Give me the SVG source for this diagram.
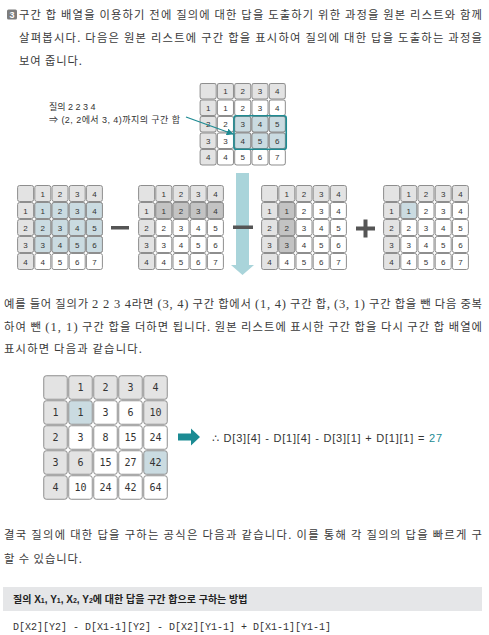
<svg xmlns="http://www.w3.org/2000/svg" xmlns:xlink="http://www.w3.org/1999/xlink" width="489" height="635" viewBox="0 0 489 635">
<style>
.p{font-family:"Noto Sans CJK KR","Liberation Sans",sans-serif;font-size:11.3px;fill:#3a3a3a}
.s{font-family:"Liberation Serif",serif;font-size:12.5px}
.c{stroke:#8e8e8e;stroke-width:1}
.h{fill:#e3e3e3}.w{fill:#fff}.b{fill:#cadbe1}.g{fill:#c3c3c3}
.t{font-family:"Liberation Sans",sans-serif;font-size:8px;fill:#333;text-anchor:middle}
.T{font-family:"DejaVu Sans Mono",monospace;font-size:10px;fill:#333;text-anchor:middle}
.lb{font-family:"Liberation Sans","Noto Sans CJK KR",sans-serif;font-size:9px;fill:#333}
.op{fill:#555}
</style>
<defs>
<marker id="ah" viewBox="0 0 10 10" refX="9" refY="5" markerWidth="7" markerHeight="7" orient="auto" markerUnits="userSpaceOnUse"><path d="M0,0L10,5L0,10z" fill="#1f8b93"/></marker>
<g id="sg-head">
<rect class="c h" x="0.6" y="0.5" width="16" height="16" rx="2"/>
<rect class="c h" x="17.8" y="0.5" width="16" height="16" rx="2"/>
<rect class="c h" x="35" y="0.5" width="16" height="16" rx="2"/>
<rect class="c h" x="52.2" y="0.5" width="16" height="16" rx="2"/>
<rect class="c h" x="69.4" y="0.5" width="16" height="16" rx="2"/>
<rect class="c h" x="0.6" y="17.5" width="16" height="16" rx="2"/>
<rect class="c h" x="0.6" y="34.5" width="16" height="16" rx="2"/>
<rect class="c h" x="0.6" y="51.5" width="16" height="16" rx="2"/>
<rect class="c h" x="0.6" y="68.5" width="16" height="16" rx="2"/>
<text class="t" x="25.8" y="11.5">1</text><text class="t" x="43" y="11.5">2</text><text class="t" x="60.2" y="11.5">3</text><text class="t" x="77.4" y="11.5">4</text>
<text class="t" x="8.6" y="28.5">1</text><text class="t" x="8.6" y="45.5">2</text><text class="t" x="8.6" y="62.5">3</text><text class="t" x="8.6" y="79.5">4</text>
</g>
<g id="sg-body">
<rect class="c w" x="17.8" y="17.5" width="16" height="16" rx="2"/><rect class="c w" x="35" y="17.5" width="16" height="16" rx="2"/><rect class="c w" x="52.2" y="17.5" width="16" height="16" rx="2"/><rect class="c w" x="69.4" y="17.5" width="16" height="16" rx="2"/>
<rect class="c w" x="17.8" y="34.5" width="16" height="16" rx="2"/><rect class="c w" x="35" y="34.5" width="16" height="16" rx="2"/><rect class="c w" x="52.2" y="34.5" width="16" height="16" rx="2"/><rect class="c w" x="69.4" y="34.5" width="16" height="16" rx="2"/>
<rect class="c w" x="17.8" y="51.5" width="16" height="16" rx="2"/><rect class="c w" x="35" y="51.5" width="16" height="16" rx="2"/><rect class="c w" x="52.2" y="51.5" width="16" height="16" rx="2"/><rect class="c w" x="69.4" y="51.5" width="16" height="16" rx="2"/>
<rect class="c w" x="17.8" y="68.5" width="16" height="16" rx="2"/><rect class="c w" x="35" y="68.5" width="16" height="16" rx="2"/><rect class="c w" x="52.2" y="68.5" width="16" height="16" rx="2"/><rect class="c w" x="69.4" y="68.5" width="16" height="16" rx="2"/>
</g>
<g id="sg-nums">
<text class="t" x="25.8" y="28.5">1</text><text class="t" x="43" y="28.5">2</text><text class="t" x="60.2" y="28.5">3</text><text class="t" x="77.4" y="28.5">4</text>
<text class="t" x="25.8" y="45.5">2</text><text class="t" x="43" y="45.5">3</text><text class="t" x="60.2" y="45.5">4</text><text class="t" x="77.4" y="45.5">5</text>
<text class="t" x="25.8" y="62.5">3</text><text class="t" x="43" y="62.5">4</text><text class="t" x="60.2" y="62.5">5</text><text class="t" x="77.4" y="62.5">6</text>
<text class="t" x="25.8" y="79.5">4</text><text class="t" x="43" y="79.5">5</text><text class="t" x="60.2" y="79.5">6</text><text class="t" x="77.4" y="79.5">7</text>
</g>
</defs>
<rect width="489" height="635" fill="#fff"/>

<g id="intro">
<rect x="7" y="9.5" width="10" height="10" rx="1.5" fill="#7d7d7d"/>
<text x="12" y="17.8" font-family="Liberation Sans,sans-serif" font-size="9" font-weight="bold" fill="#fff" text-anchor="middle">3</text>
<text class="p" x="19" y="18.5" textLength="463" lengthAdjust="spacing">구간 합 배열을 이용하기 전에 질의에 대한 답을 도출하기 위한 과정을 원본 리스트와 함께</text>
<text class="p" x="19" y="41.5" textLength="463" lengthAdjust="spacing">살펴봅시다. 다음은 원본 리스트에 구간 합을 표시하여 질의에 대한 답을 도출하는 과정을</text>
<text class="p" x="19" y="64.5" textLength="63" lengthAdjust="spacing">보여 줍니다.</text>
</g>

<g id="query-label">
<text class="lb" x="49" y="110">질의 2 2 3 4</text>
<text class="lb" x="49" y="123" textLength="131" lengthAdjust="spacing">⇒ (2, 2에서 3, 4)까지의 구간 합</text>
</g>

<g id="grid-top" transform="translate(199.5,83) scale(1.005,0.97)">
<use href="#sg-head"/><use href="#sg-body"/>
<rect class="c b" x="35" y="34.5" width="16" height="16" rx="2"/><rect class="c b" x="52.2" y="34.5" width="16" height="16" rx="2"/><rect class="c b" x="69.4" y="34.5" width="16" height="16" rx="2"/>
<rect class="c b" x="35" y="51.5" width="16" height="16" rx="2"/><rect class="c b" x="52.2" y="51.5" width="16" height="16" rx="2"/><rect class="c b" x="69.4" y="51.5" width="16" height="16" rx="2"/>
<use href="#sg-nums"/>
<rect x="34.3" y="33.8" width="52" height="34.6" rx="2.5" fill="none" stroke="#1f8b93" stroke-width="1.6"/>
</g>

<g id="grid-a" transform="translate(17,185)">
<use href="#sg-head"/><use href="#sg-body"/>
<rect class="c b" x="17.8" y="17.5" width="16" height="16" rx="2"/><rect class="c b" x="35" y="17.5" width="16" height="16" rx="2"/><rect class="c b" x="52.2" y="17.5" width="16" height="16" rx="2"/><rect class="c b" x="69.4" y="17.5" width="16" height="16" rx="2"/>
<rect class="c b" x="17.8" y="34.5" width="16" height="16" rx="2"/><rect class="c b" x="35" y="34.5" width="16" height="16" rx="2"/><rect class="c b" x="52.2" y="34.5" width="16" height="16" rx="2"/><rect class="c b" x="69.4" y="34.5" width="16" height="16" rx="2"/>
<rect class="c b" x="17.8" y="51.5" width="16" height="16" rx="2"/><rect class="c b" x="35" y="51.5" width="16" height="16" rx="2"/><rect class="c b" x="52.2" y="51.5" width="16" height="16" rx="2"/><rect class="c b" x="69.4" y="51.5" width="16" height="16" rx="2"/>
<use href="#sg-nums"/>
</g>

<g id="grid-b" transform="translate(138,185)">
<use href="#sg-head"/><use href="#sg-body"/>
<rect class="c g" x="17.8" y="17.5" width="16" height="16" rx="2"/><rect class="c g" x="35" y="17.5" width="16" height="16" rx="2"/><rect class="c g" x="52.2" y="17.5" width="16" height="16" rx="2"/><rect class="c g" x="69.4" y="17.5" width="16" height="16" rx="2"/>
<use href="#sg-nums"/>
</g>

<g id="grid-c" transform="translate(261,185)">
<use href="#sg-head"/><use href="#sg-body"/>
<rect class="c g" x="17.8" y="17.5" width="16" height="16" rx="2"/><rect class="c g" x="17.8" y="34.5" width="16" height="16" rx="2"/><rect class="c g" x="17.8" y="51.5" width="16" height="16" rx="2"/>
<use href="#sg-nums"/>
</g>

<g id="grid-d" transform="translate(383,185)">
<use href="#sg-head"/><use href="#sg-body"/>
<rect class="c b" x="17.8" y="17.5" width="16" height="16" rx="2"/>
<use href="#sg-nums"/>
</g>

<g id="connectors">
<line x1="186" y1="117" x2="233" y2="134" stroke="#1f8b93" stroke-width="1.3" marker-end="url(#ah)"/>
<polygon points="236,173 249,173 249,265 254,265 242.5,275 231,265 236,265" fill="#a9d4da"/>
<polygon points="178,433.5 191,433.5 191,428.5 200,437 191,445.5 191,440.5 178,440.5" fill="#1b8b93"/>
</g>

<g id="operators">
<rect class="op" x="111" y="226" width="18" height="3.5"/>
<rect class="op" x="233" y="225.5" width="20" height="3.5"/>
<rect class="op" x="356" y="226.5" width="19" height="4"/>
<rect class="op" x="363.5" y="219.5" width="4" height="18"/>
</g>

<g id="para2">
<text class="p" x="4" y="307.5" textLength="478" lengthAdjust="spacing">예를 들어 질의가 <tspan class="s">2 2 3 4</tspan>라면 <tspan class="s">(3, 4)</tspan> 구간 합에서 <tspan class="s">(1, 4)</tspan> 구간 합, <tspan class="s">(3, 1)</tspan> 구간 합을 뺀 다음 중복</text>
<text class="p" x="4" y="330.5" textLength="478" lengthAdjust="spacing">하여 뺀 <tspan class="s">(1, 1)</tspan> 구간 합을 더하면 됩니다. 원본 리스트에 표시한 구간 합을 다시 구간 합 배열에</text>
<text class="p" x="4" y="352.5" textLength="138" lengthAdjust="spacing">표시하면 다음과 같습니다.</text>
</g>

<g id="grid-sum" transform="translate(43,375)">
<rect class="c h" x="0.75" y="0.75" width="23.5" height="23.5" rx="2.5"/>
<rect class="c h" x="25.75" y="0.75" width="23.5" height="23.5" rx="2.5"/>
<rect class="c h" x="50.75" y="0.75" width="23.5" height="23.5" rx="2.5"/>
<rect class="c h" x="75.75" y="0.75" width="23.5" height="23.5" rx="2.5"/>
<rect class="c h" x="100.75" y="0.75" width="23.5" height="23.5" rx="2.5"/>
<rect class="c h" x="0.75" y="25.75" width="23.5" height="23.5" rx="2.5"/>
<rect class="c b" x="25.75" y="25.75" width="23.5" height="23.5" rx="2.5"/>
<rect class="c w" x="50.75" y="25.75" width="23.5" height="23.5" rx="2.5"/>
<rect class="c w" x="75.75" y="25.75" width="23.5" height="23.5" rx="2.5"/>
<rect class="c h" x="100.75" y="25.75" width="23.5" height="23.5" rx="2.5"/>
<rect class="c h" x="0.75" y="50.75" width="23.5" height="23.5" rx="2.5"/>
<rect class="c w" x="25.75" y="50.75" width="23.5" height="23.5" rx="2.5"/>
<rect class="c w" x="50.75" y="50.75" width="23.5" height="23.5" rx="2.5"/>
<rect class="c w" x="75.75" y="50.75" width="23.5" height="23.5" rx="2.5"/>
<rect class="c w" x="100.75" y="50.75" width="23.5" height="23.5" rx="2.5"/>
<rect class="c h" x="0.75" y="75.75" width="23.5" height="23.5" rx="2.5"/>
<rect class="c h" x="25.75" y="75.75" width="23.5" height="23.5" rx="2.5"/>
<rect class="c w" x="50.75" y="75.75" width="23.5" height="23.5" rx="2.5"/>
<rect class="c w" x="75.75" y="75.75" width="23.5" height="23.5" rx="2.5"/>
<rect class="c b" x="100.75" y="75.75" width="23.5" height="23.5" rx="2.5"/>
<rect class="c h" x="0.75" y="100.75" width="23.5" height="23.5" rx="2.5"/>
<rect class="c w" x="25.75" y="100.75" width="23.5" height="23.5" rx="2.5"/>
<rect class="c w" x="50.75" y="100.75" width="23.5" height="23.5" rx="2.5"/>
<rect class="c w" x="75.75" y="100.75" width="23.5" height="23.5" rx="2.5"/>
<rect class="c w" x="100.75" y="100.75" width="23.5" height="23.5" rx="2.5"/>
<text class="T" x="37.5" y="16">1</text><text class="T" x="62.5" y="16">2</text><text class="T" x="87.5" y="16">3</text><text class="T" x="112.5" y="16">4</text>
<text class="T" x="12.5" y="41">1</text><text class="T" x="37.5" y="41">1</text><text class="T" x="62.5" y="41">3</text><text class="T" x="87.5" y="41">6</text><text class="T" x="112.5" y="41">10</text>
<text class="T" x="12.5" y="66">2</text><text class="T" x="37.5" y="66">3</text><text class="T" x="62.5" y="66">8</text><text class="T" x="87.5" y="66">15</text><text class="T" x="112.5" y="66">24</text>
<text class="T" x="12.5" y="91">3</text><text class="T" x="37.5" y="91">6</text><text class="T" x="62.5" y="91">15</text><text class="T" x="87.5" y="91">27</text><text class="T" x="112.5" y="91">42</text>
<text class="T" x="12.5" y="116">4</text><text class="T" x="37.5" y="116">10</text><text class="T" x="62.5" y="116">24</text><text class="T" x="87.5" y="116">42</text><text class="T" x="112.5" y="116">64</text>
</g>

<g id="formula">
<text x="212" y="442" font-family="Liberation Sans,DejaVu Sans,sans-serif" font-size="11" fill="#333" textLength="230" lengthAdjust="spacing">∴ D[3][4] - D[1][4] - D[3][1] + D[1][1] = <tspan fill="#1b8b93">27</tspan></text>
</g>

<g id="para3">
<text class="p" x="4" y="539" textLength="478" lengthAdjust="spacing">결국 질의에 대한 답을 구하는 공식은 다음과 같습니다. 이를 통해 각 질의의 답을 빠르게 구</text>
<text class="p" x="4" y="563" textLength="78" lengthAdjust="spacing">할 수 있습니다.</text>
</g>

<g id="method-box">
<rect x="3" y="587" width="479" height="24" fill="#e5e6e8"/>
<text x="13" y="603" font-family="Liberation Sans,Noto Sans CJK KR,sans-serif" font-size="10" font-weight="bold" fill="#222">질의 X<tspan font-size="7">1</tspan>, Y<tspan font-size="7">1</tspan>, X<tspan font-size="7">2</tspan>, Y<tspan font-size="7">2</tspan>에 대한 답을 구간 합으로 구하는 방법</text>
</g>

<g id="method-code">
<text x="13" y="629.5" font-family="Liberation Mono,monospace" font-size="10" fill="#333">D[X2][Y2] - D[X1-1][Y2] - D[X2][Y1-1] + D[X1-1][Y1-1]</text>
</g>
</svg>
